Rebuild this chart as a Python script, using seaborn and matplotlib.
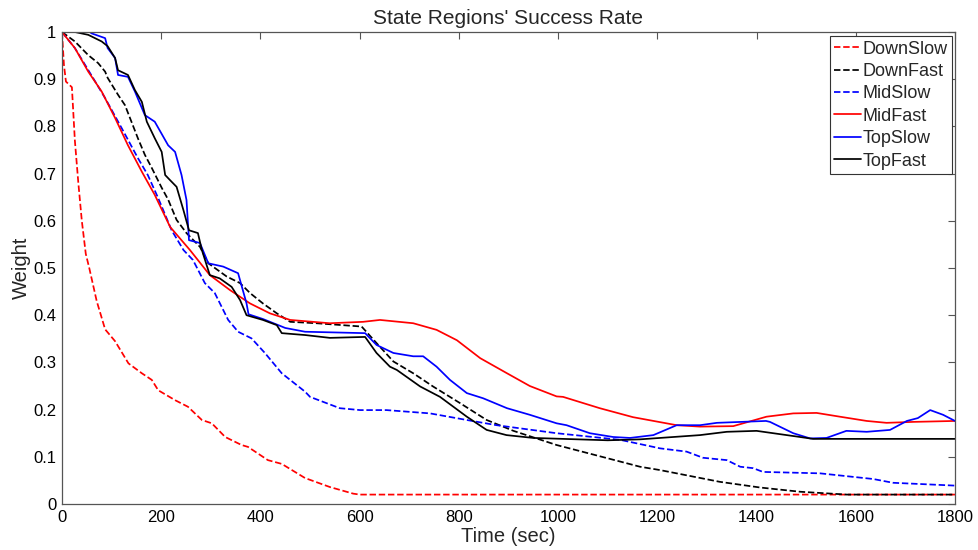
#!/usr/bin/env python3
"""State regions' success rate over time (weights per region)."""

import matplotlib
matplotlib.use("Agg")
import matplotlib.pyplot as plt
import pandas as pd
import seaborn as sns

# --- data --------------------------------------------------------------
down_slow_t = [0, 4, 8, 20, 26, 33, 40, 48, 55, 70, 87, 107, 134, 161, 181, 194,
               228, 254, 282, 302, 329, 362, 375, 415, 443, 490, 540, 587, 600, 1800]
down_slow_w = [1.0, 0.93, 0.895, 0.883, 0.77, 0.68, 0.6, 0.53, 0.5, 0.43, 0.37, 0.345,
               0.298, 0.277, 0.263, 0.241, 0.22, 0.206, 0.178, 0.171, 0.142, 0.125,
               0.121, 0.093, 0.085, 0.055, 0.036, 0.022, 0.02, 0.02]

down_fast_t = [0, 26, 53, 73, 87, 92, 113, 127, 140, 153, 167, 181, 201, 214, 231, 251,
               278, 295, 332, 359, 379, 405, 433, 460, 513, 604, 634, 668, 708, 748,
               802, 856, 896, 910, 997, 1125, 1165, 1205, 1326, 1407, 1488, 1582, 1800]
down_fast_w = [1.0, 0.98, 0.951, 0.934, 0.916, 0.903, 0.867, 0.845, 0.81, 0.775, 0.74,
               0.712, 0.67, 0.645, 0.602, 0.574, 0.545, 0.51, 0.482, 0.468, 0.447, 0.425,
               0.404, 0.386, 0.383, 0.376, 0.341, 0.302, 0.277, 0.249, 0.214, 0.178,
               0.161, 0.155, 0.125, 0.09, 0.079, 0.072, 0.047, 0.035, 0.026, 0.02, 0.02]

mid_slow_t = [0, 26, 67, 87, 120, 153, 173, 194, 221, 245, 264, 288, 308, 335, 355, 382,
              409, 443, 490, 500, 560, 601, 654, 742, 816, 876, 997, 1125, 1192, 1205,
              1259, 1292, 1340, 1367, 1393, 1413, 1528, 1635, 1675, 1800]
mid_slow_w = [1.0, 0.966, 0.895, 0.86, 0.797, 0.733, 0.697, 0.648, 0.58, 0.538, 0.517,
              0.468, 0.447, 0.39, 0.365, 0.351, 0.32, 0.277, 0.238, 0.227, 0.203, 0.199,
              0.199, 0.192, 0.178, 0.167, 0.15, 0.136, 0.121, 0.118, 0.111, 0.098, 0.093,
              0.079, 0.076, 0.068, 0.065, 0.053, 0.045, 0.039]

mid_fast_t = [0, 26, 53, 80, 107, 133, 161, 187, 218, 258, 298, 339, 379, 419, 460, 540,
              607, 641, 708, 755, 796, 843, 897, 943, 997, 1010, 1084, 1151, 1239, 1286,
              1353, 1420, 1474, 1521, 1568, 1622, 1662, 1716, 1800]
mid_fast_w = [1.0, 0.966, 0.916, 0.874, 0.818, 0.76, 0.704, 0.655, 0.587, 0.538, 0.485,
              0.453, 0.425, 0.404, 0.39, 0.383, 0.386, 0.39, 0.383, 0.369, 0.347, 0.309,
              0.277, 0.25, 0.228, 0.227, 0.203, 0.184, 0.167, 0.164, 0.165, 0.185,
              0.192, 0.193, 0.185, 0.176, 0.172, 0.174, 0.176]

top_slow_t = [0, 56, 60, 87, 92, 107, 113, 133, 147, 167, 187, 214, 228, 241, 251, 256,
              278, 295, 325, 355, 372, 376, 405, 436, 450, 490, 611, 634, 668, 708, 728,
              755, 782, 816, 849, 897, 943, 997, 1017, 1064, 1111, 1145, 1192, 1239,
              1286, 1320, 1419, 1427, 1474, 1508, 1541, 1581, 1622, 1669, 1703, 1725,
              1750, 1776, 1800]
top_slow_w = [1.0, 1.0, 0.997, 0.987, 0.966, 0.945, 0.909, 0.905, 0.874, 0.824, 0.81,
              0.76, 0.746, 0.697, 0.644, 0.559, 0.553, 0.51, 0.503, 0.489, 0.425, 0.402,
              0.392, 0.379, 0.373, 0.365, 0.362, 0.337, 0.32, 0.313, 0.313, 0.291, 0.263,
              0.235, 0.224, 0.203, 0.189, 0.171, 0.167, 0.15, 0.142, 0.14, 0.146, 0.167,
              0.167, 0.172, 0.176, 0.174, 0.15, 0.139, 0.14, 0.155, 0.153, 0.157, 0.176,
              0.182, 0.199, 0.189, 0.176]

top_fast_t = [0, 26, 53, 80, 92, 107, 113, 133, 147, 161, 171, 187, 201, 208, 218, 231,
              245, 256, 274, 282, 298, 318, 342, 359, 372, 405, 433, 443, 490, 540, 611,
              634, 661, 675, 722, 762, 816, 856, 896, 950, 1100, 1165, 1286, 1340, 1400,
              1481, 1514, 1800]
top_fast_w = [1.0, 1.0, 0.994, 0.98, 0.97, 0.945, 0.919, 0.909, 0.877, 0.852, 0.81,
              0.775, 0.746, 0.697, 0.686, 0.672, 0.622, 0.58, 0.574, 0.538, 0.485, 0.478,
              0.46, 0.432, 0.4, 0.39, 0.379, 0.362, 0.358, 0.352, 0.354, 0.32, 0.291,
              0.284, 0.249, 0.227, 0.185, 0.157, 0.146, 0.14, 0.135, 0.137, 0.146, 0.153,
              0.155, 0.143, 0.138, 0.138]

series = [
    ("DownSlow", down_slow_t, down_slow_w, "#ff0000", "--"),
    ("DownFast", down_fast_t, down_fast_w, "#000000", "--"),
    ("MidSlow", mid_slow_t, mid_slow_w, "#0000ff", "--"),
    ("MidFast", mid_fast_t, mid_fast_w, "#ff0000", "-"),
    ("TopSlow", top_slow_t, top_slow_w, "#0000ff", "-"),
    ("TopFast", top_fast_t, top_fast_w, "#000000", "-"),
]

x_ticks = list(range(0, 1801, 200))
y_ticks = [i / 10 for i in range(11)]
y_tick_labels = ["0"] + [f"{v:.1f}" for v in y_ticks[1:-1]] + ["1"]


def main() -> None:
    sns.set_style("white")
    plt.rcParams["font.family"] = ["Liberation Sans", "DejaVu Sans"]

    fig = plt.figure(figsize=(9.79, 5.5), dpi=100)
    ax = fig.add_axes([0.0633, 0.0836, 0.9122, 0.8582])

    for name, t, w, color, ls in series:
        df = pd.DataFrame({"t": t, "w": w})
        line_kw = dict(dashes=(4, 2.5)) if ls == "--" else {}
        sns.lineplot(data=df, x="t", y="w", ax=ax, color=color, linestyle=ls,
                     linewidth=1.25, label=name, **line_kw)

    ax.set_xlim(0, 1800)
    ax.set_ylim(0, 1)
    ax.set_xticks(x_ticks)
    ax.set_xticklabels([str(v) for v in x_ticks])
    ax.set_yticks(y_ticks)
    ax.set_yticklabels(y_tick_labels)
    ax.tick_params(direction="in", top=True, right=True, length=5, width=0.8,
                   color="#555555", labelsize=12, labelcolor="black", pad=4)
    for sp in ax.spines.values():
        sp.set_color("#555555")
        sp.set_linewidth(0.9)

    ax.set_title("State Regions' Success Rate", fontsize=15, pad=6)
    ax.set_xlabel("Time (sec)", fontsize=14.5, labelpad=2)
    ax.set_ylabel("Weight", fontsize=14.5, labelpad=2)

    leg = ax.legend(loc="upper right", bbox_to_anchor=(0.9966, 0.9915),
                    borderaxespad=0, fontsize=13, handlelength=1.45,
                    handletextpad=0.1, labelspacing=0.3, borderpad=0.25,
                    fancybox=False, framealpha=1, edgecolor="#333333")
    leg.get_frame().set_linewidth(0.8)

    fig.savefig("out.png", dpi=100)
    plt.close(fig)


if __name__ == "__main__":
    main()
